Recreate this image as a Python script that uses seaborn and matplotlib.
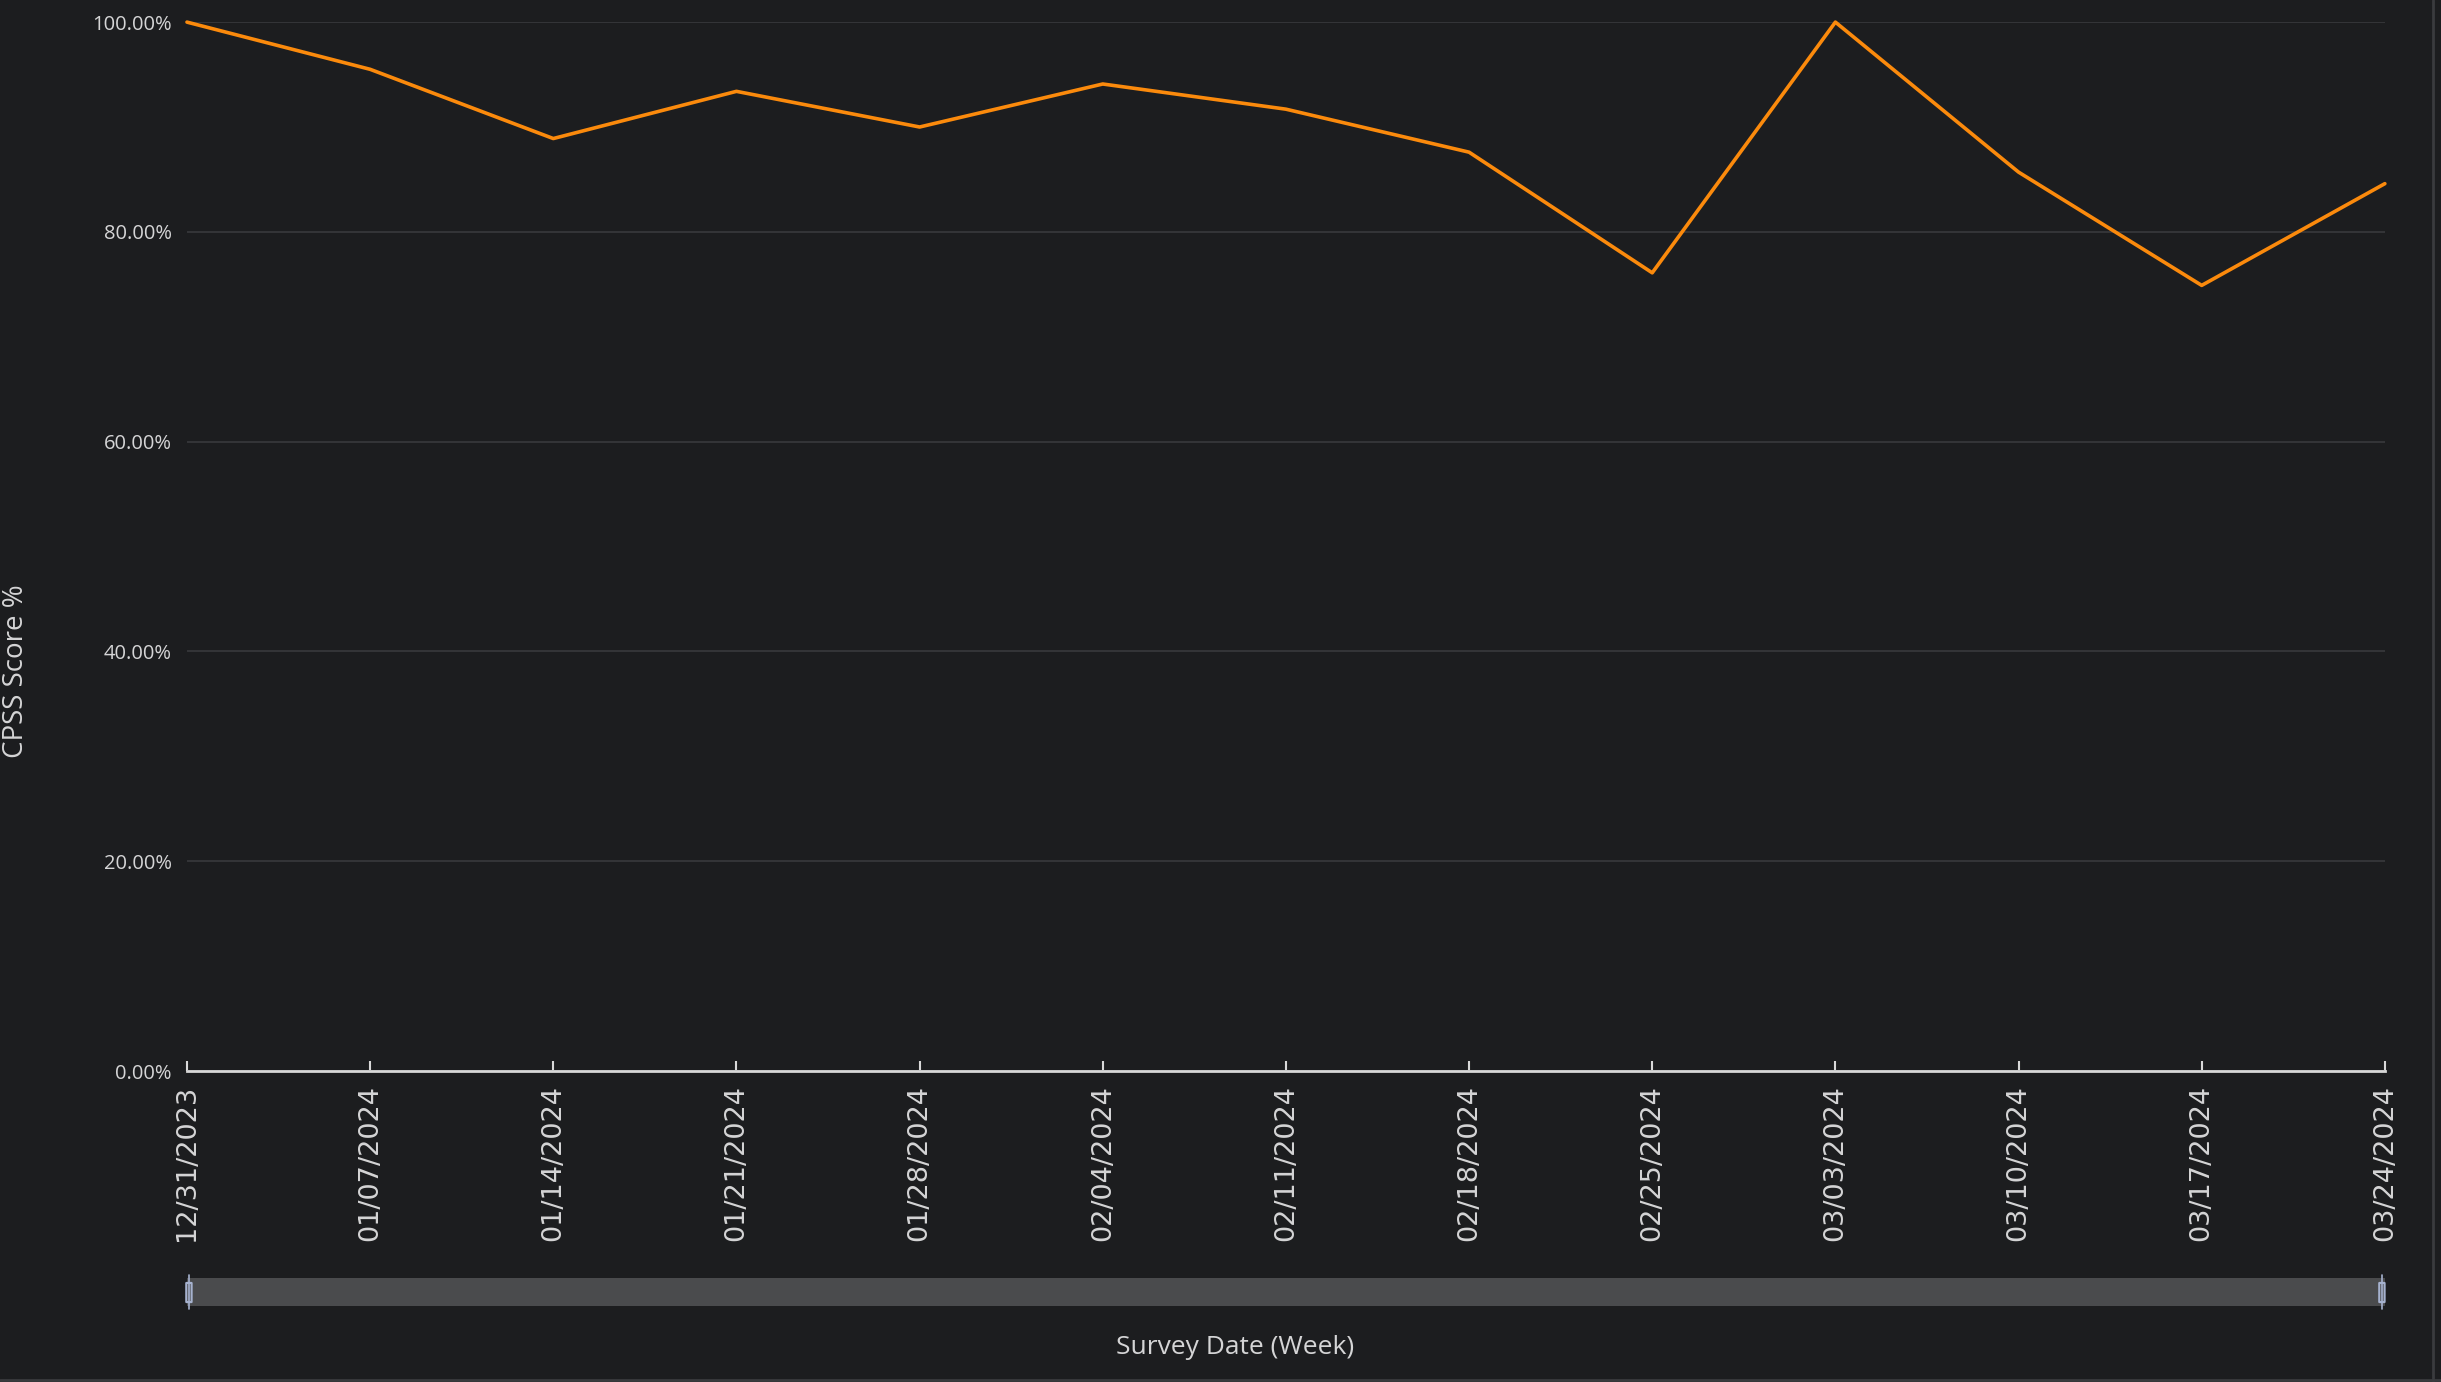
import numpy as np
import pandas as pd
import matplotlib.pyplot as plt
import matplotlib.ticker as mticker
import matplotlib.dates as mdates
from matplotlib.patches import FancyBboxPatch, Rectangle
from matplotlib.lines import Line2D
import seaborn as sns

# weekly survey dates and CPSS score (%)
weeks = ["2023-12-31", "2024-01-07", "2024-01-14", "2024-01-21", "2024-01-28",
         "2024-02-04", "2024-02-11", "2024-02-18", "2024-02-25", "2024-03-03",
         "2024-03-10", "2024-03-17", "2024-03-24"]
scores = [100.0, 95.5, 88.9, 93.4, 90.0, 94.1, 91.7, 87.6, 76.1, 100.0, 85.7, 74.9, 84.6]
y_ticks = [0, 20, 40, 60, 80, 100]

df = pd.DataFrame({"week": pd.to_datetime(weeks), "score": scores})

bg = "#1c1d1f"
txt = "#d5d5d6"
orange = "#fb8a0c"

sns.set_style("dark", {"axes.facecolor": bg, "figure.facecolor": bg})
plt.rcParams["font.family"] = ["Open Sans", "DejaVu Sans"]

fig = plt.figure(figsize=(24.41, 13.82), dpi=100)
ax = fig.add_axes([0.0766, 0.225, 0.9004, 0.759])

sns.lineplot(data=df, x="week", y="score", ax=ax, color=orange, linewidth=2.6)
for l in ax.lines:
    l.set_clip_on(False)

ax.set_xlim(df["week"].iloc[0], df["week"].iloc[-1])
ax.set_ylim(0, 100)
ax.set_yticks(y_ticks)
ax.yaxis.set_major_formatter(mticker.PercentFormatter(decimals=2))
ax.set_xticks(df["week"])
ax.xaxis.set_major_formatter(mdates.DateFormatter("%m/%d/%Y"))

ax.grid(axis="y", color="#36373a", linewidth=1.3)
ax.grid(axis="x", visible=False)
ax.set_axisbelow(True)
for s in ["top", "right", "left"]:
    ax.spines[s].set_visible(False)
ax.spines["bottom"].set_color("#d8d8d8")
ax.spines["bottom"].set_linewidth(2)
ax.spines["bottom"].set_zorder(5)

ax.tick_params(axis="y", left=False, length=0, pad=11, labelsize=14.5, labelcolor=txt)
ax.tick_params(axis="x", bottom=True, direction="in", length=7, width=1.5, color="#d8d8d8",
               pad=10, labelsize=19.5, labelcolor=txt, labelrotation=90)
for lab in ax.get_xticklabels():
    lab.set_fontfamily("DejaVu Sans")
    lab.set_va("top")

ax.set_xlabel("")
ax.set_ylabel("")
fig.text(0.0066, 0.514, "CPSS Score %", rotation=90, ha="center", va="center",
         fontsize=20, color=txt)
fig.text(0.506, 0.025, "Survey Date (Week)", ha="center", va="center",
         fontsize=19, color=txt)

# range slider under the chart
x0, x1 = 0.0766, 0.0766 + 0.9004
fig.add_artist(Rectangle((x0, 0.055), x1 - x0, 0.0203, transform=fig.transFigure,
                         facecolor="#4a4b4d", edgecolor="none"))
for hx in [x0 + 0.0008, x1 - 0.0012]:
    fig.add_artist(Line2D([hx, hx], [0.053, 0.0775], transform=fig.transFigure,
                          color="#a6b2cf", linewidth=1.2))
    fig.add_artist(FancyBboxPatch((hx - 0.0009, 0.058), 0.0018, 0.0135,
                                  boxstyle="round,pad=0.0002", transform=fig.transFigure,
                                  facecolor="#4a4b4d", edgecolor="#a6b2cf", linewidth=1.5))

# panel border on the right and bottom
fig.add_artist(Line2D([0.9967, 0.9967], [0.0, 1.0], transform=fig.transFigure,
                      color="#3a3b3e", linewidth=2))
fig.add_artist(Line2D([0.0, 1.0], [0.0015, 0.0015], transform=fig.transFigure,
                      color="#3a3b3e", linewidth=2))

fig.savefig("out.png", dpi=100, facecolor=bg)
